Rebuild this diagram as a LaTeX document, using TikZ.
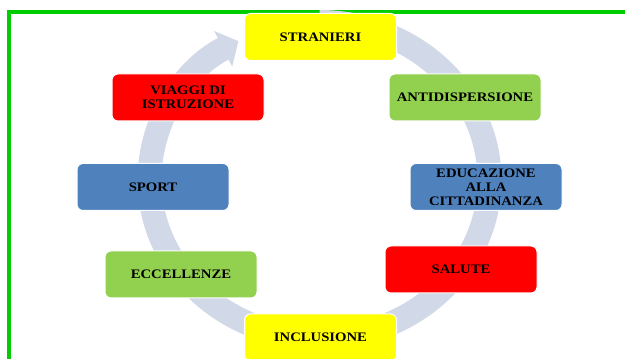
\documentclass[tikz,border=0pt]{standalone}
\usepackage{fontspec}
\setmainfont{Liberation Serif}[FakeStretch=1.13]
\usetikzlibrary{arrows.meta}
\definecolor{ringc}{RGB}{209,216,232}
\definecolor{frameg}{RGB}{0,204,0}
\definecolor{byel}{RGB}{255,255,0}
\definecolor{bgreen}{RGB}{146,208,80}
\definecolor{bred}{RGB}{255,0,0}
\definecolor{bblue}{RGB}{79,129,189}
\begin{document}
\begin{tikzpicture}[x=1pt,y=1pt,
  box/.style={rounded corners=6pt, draw=white, line width=1pt,
    minimum width=152pt, minimum height=47pt, inner sep=0pt,
    align=center, font=\fontsize{13}{14}\selectfont\bfseries, text=black},
  ring/.style={ringc, line width=24pt, -{Triangle[width=39pt,length=17pt]}}]
\useasboundingbox (0,0) rectangle (625,359);
\clip (0,0) rectangle (625,359);
\fill[white] (0,0) rectangle (625,359);
\draw[frameg, line width=4pt] (9,-10) -- (9,346.5) -- (640,346.5);
\coordinate (ringtop) at (319.5,337);
\draw[ring] (ringtop) arc[start angle=90, end angle=-241.5, x radius=170, y radius=158];
\node[box, fill=byel] (stranieri) at (320.5,322) {STRANIERI};
\node[box, fill=bgreen] (antidisp) at (465,261.5) {ANTIDISPERSIONE};
\node[box, fill=bred] (viaggi) at (188,261.5) {VIAGGI DI\\ISTRUZIONE};
\node[box, fill=bblue] (sport) at (153,172) {SPORT};
\node[box, fill=bblue] (educ) at (486,172) {EDUCAZIONE\\ALLA\\CITTADINANZA};
\node[box, fill=bgreen] (eccel) at (181,84.5) {ECCELLENZE};
\node[box, fill=bred] (salute) at (461,89.5) {SALUTE};
\node[box, fill=byel] (incl) at (320.5,21.5) {INCLUSIONE};
\end{tikzpicture}
\end{document}
